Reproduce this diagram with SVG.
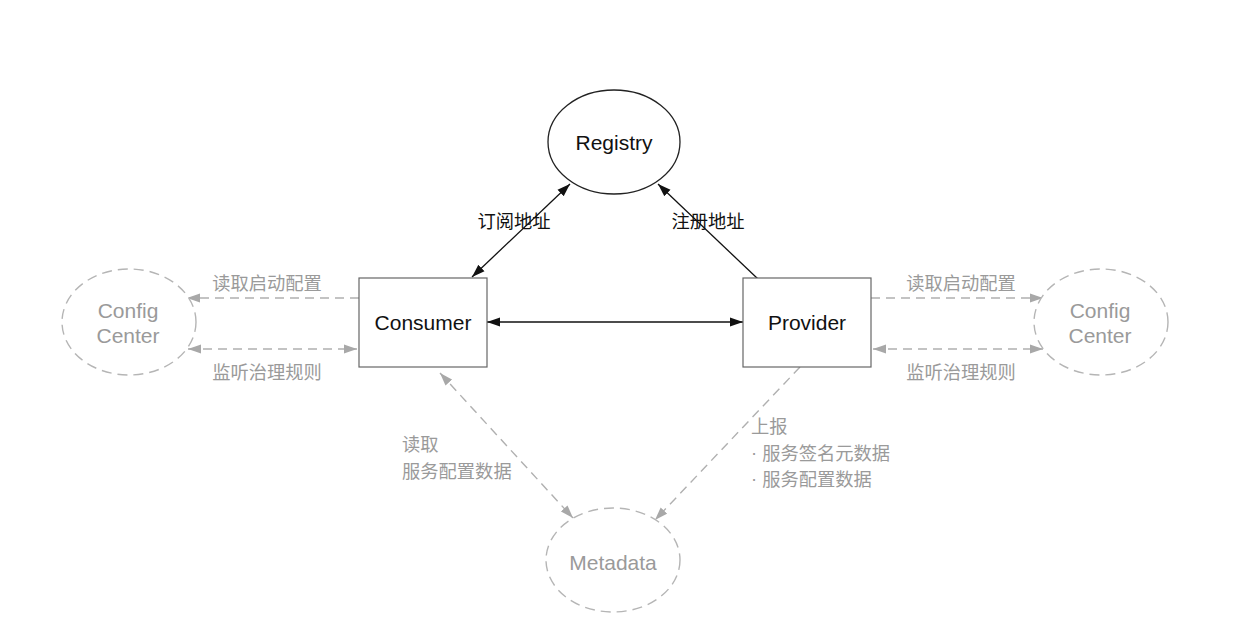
<svg xmlns="http://www.w3.org/2000/svg" width="1242" height="618" viewBox="0 0 1242 618">
<style>
.bg{fill:#fff}
.en{font-family:"Liberation Sans",Arial,"Noto Sans CJK SC",sans-serif;font-size:21px;text-anchor:middle;dominant-baseline:central}
.black{fill:#111}
.gtext{fill:#9a9a9a}
.cn{font-family:"Noto Sans CJK SC","Liberation Sans",sans-serif;font-size:18.3px;dominant-baseline:central}
.mid{text-anchor:middle}
.dot{font-family:"Liberation Sans",Arial,sans-serif}
.box{fill:#fff;stroke:#666;stroke-width:1.2}
.solid-ell{fill:#fff;stroke:#222;stroke-width:1.3}
.dash-ell{fill:#fff;stroke:#b5b5b5;stroke-width:1.4;stroke-dasharray:10 6}
.solid{stroke:#111;stroke-width:1.3;fill:none}
.dashed{stroke:#b0b0b0;stroke-width:1.4;fill:none;stroke-dasharray:9 6}
</style>
<defs>
<marker id="ab" markerUnits="userSpaceOnUse" markerWidth="13" markerHeight="10" refX="13" refY="5" orient="auto-start-reverse" viewBox="0 0 13 10">
<path d="M0,0.5 L13,5 L0,9.5 z" fill="#111"/>
</marker>
<marker id="ag" markerUnits="userSpaceOnUse" markerWidth="13" markerHeight="10" refX="13" refY="5" orient="auto-start-reverse" viewBox="0 0 13 10">
<path d="M0,0.5 L13,5 L0,9.5 z" fill="#a8a8a8"/>
</marker>
</defs>
<rect class="bg" x="0" y="0" width="1242" height="618"/>

<g id="connectors">
<line class="solid" x1="472" y1="277" x2="570" y2="184" marker-start="url(#ab)" marker-end="url(#ab)"/>
<line class="solid" x1="758" y1="279" x2="658" y2="184" marker-end="url(#ab)"/>
<line class="solid" x1="487" y1="322" x2="743" y2="322" marker-start="url(#ab)" marker-end="url(#ab)"/>
<line class="dashed" x1="359" y1="298" x2="187" y2="298" marker-end="url(#ag)"/>
<line class="dashed" x1="188" y1="349" x2="357" y2="349" marker-start="url(#ag)" marker-end="url(#ag)"/>
<line class="dashed" x1="871" y1="298" x2="1043" y2="298" marker-end="url(#ag)"/>
<line class="dashed" x1="873" y1="349" x2="1043" y2="349" marker-start="url(#ag)" marker-end="url(#ag)"/>
<line class="dashed" x1="440" y1="373" x2="573" y2="518" marker-start="url(#ag)" marker-end="url(#ag)"/>
<line class="dashed" x1="800" y1="367" x2="655" y2="520" marker-end="url(#ag)"/>
</g>

<g id="registry">
<ellipse class="solid-ell" cx="614" cy="142" rx="66" ry="52"/>
<text class="en black" x="614" y="142">Registry</text>
</g>

<g id="consumer">
<rect class="box" x="359" y="278" width="128" height="89"/>
<text class="en black" x="423" y="322">Consumer</text>
</g>

<g id="provider">
<rect class="box" x="743" y="278" width="128" height="89"/>
<text class="en black" x="807" y="322">Provider</text>
</g>

<g id="config-left">
<ellipse class="dash-ell" cx="129" cy="322" rx="67" ry="53"/>
<text class="en gtext" x="128" y="310">Config</text>
<text class="en gtext" x="128" y="335">Center</text>
</g>

<g id="config-right">
<ellipse class="dash-ell" cx="1101" cy="322" rx="67" ry="53"/>
<text class="en gtext" x="1100" y="310">Config</text>
<text class="en gtext" x="1100" y="335">Center</text>
</g>

<g id="metadata">
<ellipse class="dash-ell" cx="613" cy="560" rx="67" ry="52"/>
<text class="en gtext" x="613" y="562">Metadata</text>
</g>

<g id="labels">
<text class="cn black mid" x="514" y="220">订阅地址</text>
<text class="cn black mid" x="708" y="220">注册地址</text>
<text class="cn gtext mid" x="267" y="282">读取启动配置</text>
<text class="cn gtext mid" x="267" y="371">监听治理规则</text>
<text class="cn gtext mid" x="961" y="282">读取启动配置</text>
<text class="cn gtext mid" x="961" y="371">监听治理规则</text>
<text class="cn gtext" x="402" y="443">读取</text>
<text class="cn gtext" x="402" y="470">服务配置数据</text>
<text class="cn gtext" x="751" y="425">上报</text>
<text class="cn gtext" x="751" y="452"><tspan class="dot">· </tspan>服务签名元数据</text>
<text class="cn gtext" x="751" y="478"><tspan class="dot">· </tspan>服务配置数据</text>
</g>
</svg>
